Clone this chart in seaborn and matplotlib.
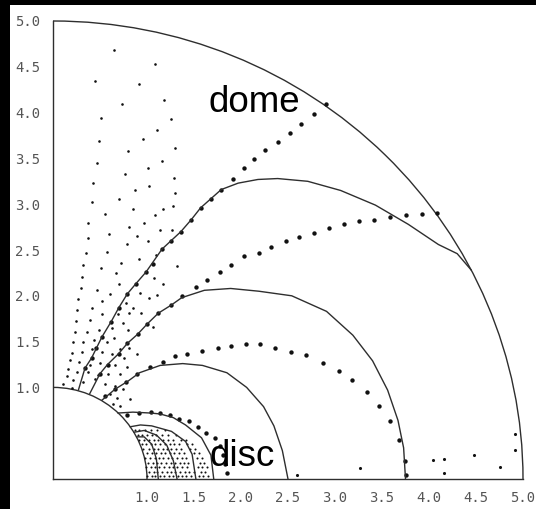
import numpy as np
import pandas as pd
import matplotlib
matplotlib.use("Agg")
import matplotlib.pyplot as plt
from matplotlib.patches import Arc, Rectangle
import seaborn as sns

sns.set_theme(style="white")
plt.rcParams["font.family"] = ["DejaVu Sans"]

# ---------------------------------------------------------------- data
# radii of the stellar surface and of the outer boundary
shell_radii = [1.0, 5.0]

# solid field lines (x, y in stellar radii)
arc_a_x = [0.27, 0.34, 0.41, 0.52, 0.62, 0.70, 0.79, 0.88, 0.99, 1.16, 1.36, 1.47, 1.57,
           1.68, 1.79, 1.97, 2.18, 2.39, 2.71, 3.06, 3.43, 3.78, 4.10, 4.30, 4.45]
arc_a_y = [0.97, 1.21, 1.32, 1.55, 1.72, 1.87, 2.02, 2.13, 2.26, 2.51, 2.70, 2.83, 2.96,
           3.06, 3.16, 3.23, 3.27, 3.28, 3.25, 3.15, 2.99, 2.78, 2.56, 2.46, 2.28]
arc_b_x = [0.39, 0.50, 0.58, 0.70, 0.79, 0.90, 1.00, 1.12, 1.26, 1.37, 1.61, 1.89, 2.19,
           2.54, 2.91, 3.19, 3.40, 3.56, 3.67, 3.73, 3.75]
arc_b_y = [0.93, 1.15, 1.25, 1.37, 1.48, 1.58, 1.69, 1.81, 1.90, 1.98, 2.06, 2.08, 2.05,
           2.00, 1.83, 1.57, 1.29, 0.97, 0.64, 0.34, 0.00]
arc_c_x = [0.52, 0.66, 0.80, 0.92, 1.14, 1.38, 1.59, 1.85, 2.06, 2.24, 2.35, 2.44, 2.50]
arc_c_y = [0.86, 0.98, 1.07, 1.16, 1.24, 1.26, 1.24, 1.16, 1.00, 0.79, 0.58, 0.31, 0.00]
arc_d_x = [0.69, 0.85, 1.04, 1.14, 1.28, 1.41, 1.58, 1.68, 1.71]
arc_d_y = [0.72, 0.73, 0.72, 0.71, 0.67, 0.59, 0.45, 0.26, 0.00]
arc_e_x = [0.82, 0.93, 1.05, 1.26, 1.41, 1.48, 1.52]
arc_e_y = [0.57, 0.59, 0.58, 0.52, 0.41, 0.27, 0.00]
arc_f_x = [0.86, 0.97, 1.10, 1.21, 1.28, 1.32]
arc_f_y = [0.51, 0.53, 0.48, 0.37, 0.20, 0.00]
arc_g_x = [0.89, 0.97, 1.05, 1.10, 1.12]
arc_g_y = [0.46, 0.46, 0.38, 0.22, 0.00]

# particle tracks (one dot per time step)
track1_x = [0.34, 0.41, 0.46, 0.52, 0.62, 0.70, 0.79, 0.88, 0.99, 1.06, 1.16, 1.26, 1.36,
            1.47, 1.57, 1.68, 1.79, 1.91, 2.03, 2.14, 2.26, 2.39, 2.52, 2.64, 2.78, 2.90]
track1_y = [1.21, 1.32, 1.43, 1.55, 1.71, 1.87, 2.02, 2.13, 2.26, 2.35, 2.51, 2.60, 2.70,
            2.83, 2.96, 3.06, 3.16, 3.27, 3.39, 3.49, 3.59, 3.68, 3.78, 3.88, 3.99, 4.09]
track2_x = [0.50, 0.58, 0.70, 0.79, 0.90, 1.00, 1.12, 1.26, 1.37, 1.52, 1.64, 1.78, 1.89,
            2.03, 2.19, 2.32, 2.48, 2.62, 2.78, 2.94, 3.10, 3.25, 3.41, 3.58, 3.75, 3.93, 4.09]
track2_y = [1.15, 1.25, 1.37, 1.48, 1.58, 1.69, 1.81, 1.90, 2.00, 2.10, 2.17, 2.26, 2.34,
            2.43, 2.47, 2.53, 2.60, 2.64, 2.69, 2.74, 2.78, 2.82, 2.83, 2.86, 2.88, 2.89, 2.90]
track3_x = [0.55, 0.66, 0.78, 0.89, 1.03, 1.17, 1.30, 1.43, 1.59, 1.75, 1.89, 2.05, 2.20,
            2.36, 2.53, 2.69, 2.87, 3.04, 3.18, 3.34, 3.47, 3.59, 3.68, 3.74, 3.76]
track3_y = [0.91, 0.98, 1.06, 1.15, 1.22, 1.28, 1.34, 1.37, 1.40, 1.43, 1.45, 1.47, 1.47,
            1.43, 1.39, 1.35, 1.27, 1.18, 1.08, 0.95, 0.80, 0.63, 0.43, 0.20, 0.04]
track4_x = [0.79, 0.92, 1.04, 1.14, 1.24, 1.34, 1.45, 1.54, 1.63, 1.72, 1.78, 1.81, 1.83, 1.85]
track4_y = [0.70, 0.72, 0.73, 0.72, 0.70, 0.66, 0.63, 0.57, 0.50, 0.45, 0.36, 0.26, 0.16, 0.07]

# scattered dots close to the equator, outside the closed loops
equator_x = [2.60, 3.27, 4.04, 4.16, 4.16, 4.48, 4.75, 4.91, 4.92]
equator_y = [0.04, 0.12, 0.21, 0.22, 0.07, 0.26, 0.13, 0.32, 0.49]

# open-field wind particles above the loops
wind_dots = [
    (0.65, 4.68), (1.09, 4.53), (0.45, 4.35), (0.91, 4.31), (0.73, 4.09), (1.18, 4.14),
    (0.51, 3.94), (1.26, 3.93), (1.11, 3.81), (0.96, 3.71), (0.49, 3.69), (0.80, 3.58),
    (1.30, 3.61), (0.47, 3.45), (1.16, 3.47), (1.01, 3.39), (0.77, 3.33), (1.29, 3.29),
    (0.43, 3.23), (1.02, 3.20), (0.87, 3.15), (1.30, 3.12), (0.70, 3.06), (0.41, 3.02),
    (0.85, 2.95), (1.17, 2.95), (1.28, 2.98), (0.55, 2.89), (1.09, 2.88), (0.37, 2.80),
    (0.97, 2.80), (0.81, 2.75), (1.14, 2.72), (1.27, 2.72),
    (0.37, 2.63), (0.60, 2.67), (0.89, 2.65), (0.35, 2.47), (0.57, 2.48), (0.79, 2.57),
    (1.01, 2.60), (0.32, 2.34), (0.51, 2.30), (0.72, 2.36), (0.91, 2.40), (1.10, 2.45),
    (1.32, 2.32), (0.31, 2.20), (0.67, 2.25), (1.07, 2.19), (1.17, 2.13), (0.30, 2.08),
    (0.47, 2.06), (0.61, 2.02), (0.70, 2.13), (0.93, 2.03), (1.02, 1.98), (1.11, 2.01),
    (0.27, 1.97), (0.42, 1.87), (0.52, 1.94), (0.78, 1.92), (0.85, 1.87), (0.94, 1.81),
    (0.25, 1.85), (0.39, 1.74), (0.52, 1.80), (0.69, 1.80), (0.81, 1.81), (1.06, 1.66),
    (0.24, 1.73), (0.23, 1.61), (0.36, 1.61), (0.49, 1.63), (0.63, 1.65), (0.74, 1.70),
    (0.80, 1.63), (0.21, 1.50), (0.32, 1.50), (0.44, 1.52), (0.57, 1.50), (0.65, 1.54),
    (0.71, 1.42), (0.81, 1.43), (0.20, 1.38), (0.31, 1.39), (0.42, 1.42), (0.52, 1.39),
    (0.63, 1.36), (0.75, 1.32), (0.89, 1.37), (0.18, 1.30), (0.28, 1.28), (0.39, 1.25),
    (0.50, 1.27), (0.66, 1.25), (0.79, 1.22), (0.16, 1.20), (0.25, 1.17), (0.37, 1.17),
    (0.48, 1.14), (0.58, 1.15), (0.71, 1.15), (0.15, 1.12), (0.21, 1.08), (0.32, 1.06),
    (0.45, 1.09), (0.55, 1.04), (0.66, 1.01), (0.74, 0.98), (0.11, 1.04), (0.20, 0.99),
    (0.61, 0.93), (0.68, 0.88), (0.64, 0.82), (0.71, 0.80), (0.82, 0.87),
]
wind_x = [p[0] for p in wind_dots]
wind_y = [p[1] for p in wind_dots]

# dense population trapped in the disc (rows of constant height)
disc_rows = {
    0.03: [1.00, 1.05, 1.09, 1.14, 1.18, 1.23, 1.28, 1.33, 1.37, 1.42, 1.47, 1.55, 1.60, 1.65],
    0.08: [1.02, 1.07, 1.11, 1.16, 1.21, 1.26, 1.30, 1.35, 1.40, 1.45, 1.50, 1.57, 1.62],
    0.13: [0.99, 1.04, 1.09, 1.13, 1.18, 1.23, 1.28, 1.32, 1.37, 1.43, 1.54, 1.59, 1.64],
    0.18: [1.01, 1.06, 1.11, 1.15, 1.20, 1.25, 1.30, 1.35, 1.39, 1.44, 1.56, 1.61],
    0.23: [0.98, 1.03, 1.08, 1.13, 1.17, 1.22, 1.27, 1.32, 1.37, 1.42, 1.53, 1.58],
    0.28: [1.00, 1.05, 1.10, 1.15, 1.19, 1.24, 1.29, 1.34, 1.39, 1.50, 1.55],
    0.33: [0.96, 1.02, 1.07, 1.12, 1.17, 1.21, 1.26, 1.31, 1.36, 1.46, 1.51],
    0.38: [0.95, 0.99, 1.04, 1.09, 1.14, 1.19, 1.24, 1.29, 1.34, 1.43, 1.48],
    0.43: [0.92, 0.97, 1.02, 1.07, 1.12, 1.17, 1.22, 1.28, 1.36, 1.41],
    0.48: [0.90, 0.95, 1.00, 1.05, 1.10, 1.16, 1.22, 1.31],
    0.53: [0.87, 0.92, 0.98, 1.04, 1.11, 1.19],
}
disc_x = [x for h, xs in disc_rows.items() for x in xs]
disc_y = [h for h, xs in disc_rows.items() for x in xs]

tick_values = [1.0, 1.5, 2.0, 2.5, 3.0, 3.5, 4.0, 4.5, 5.0]
minor_values = [1.25, 1.75, 2.25, 2.75, 3.25, 3.75, 4.25, 4.75]
tick_labels = ["1.0", "1.5", "2.0", "2.5", "3.0", "3.5", "4.0", "4.5", "5.0"]

region_labels = ["dome", "disc"]
region_pos = [(1.65, 4.01), (1.67, 0.14)]

# ---------------------------------------------------------------- figure
W, H = 536, 509
fig = plt.figure(figsize=(W / 100, H / 100), dpi=100)
fig.patch.set_facecolor("black")
fig.patches.append(Rectangle((10 / W, 0), 1 - 10 / W, (H - 5) / H,
                             transform=fig.transFigure, facecolor="white",
                             edgecolor="none", zorder=-5))

x_max, y_max = (W - 53) / 94, 5.1
ax = fig.add_axes([53 / W, 30 / H, 94 * x_max / W, 91.6 * y_max / H])
ax.set_facecolor("white")
ax.set_xlim(0, x_max)
ax.set_ylim(0, y_max)

line_kw = dict(color="#2e2e2e", linewidth=1.0)
for r in shell_radii:
    ax.add_patch(Arc((0, 0), 2 * r, 2 * r, theta1=0, theta2=90, clip_on=False, **line_kw))

for xs, ys in [(arc_a_x, arc_a_y), (arc_b_x, arc_b_y), (arc_c_x, arc_c_y),
               (arc_d_x, arc_d_y), (arc_e_x, arc_e_y), (arc_f_x, arc_f_y),
               (arc_g_x, arc_g_y)]:
    sns.lineplot(data=pd.DataFrame({"x": xs, "y": ys}), x="x", y="y", sort=False,
                 estimator=None, ax=ax, **line_kw)

dot_kw = dict(color="#111111", linewidth=0, legend=False, marker="o")
for xs, ys in [(track1_x, track1_y), (track2_x, track2_y), (track3_x, track3_y),
               (track4_x, track4_y)]:
    sns.scatterplot(x=xs, y=ys, s=10, ax=ax, **dot_kw)
sns.scatterplot(x=equator_x, y=equator_y, s=5, ax=ax, **dot_kw)
sns.scatterplot(x=wind_x, y=wind_y, s=3.5, ax=ax, **dot_kw)
sns.scatterplot(x=disc_x, y=disc_y, s=2.2, ax=ax, **dot_kw)

for text, (tx, ty) in zip(region_labels, region_pos):
    ax.text(tx, ty, text, fontsize=26.5, family="Liberation Sans", color="black",
            ha="left", va="baseline", zorder=10)

# axes frame: only the two meridional axes, up to r = 5
for side in ("top", "right"):
    ax.spines[side].set_visible(False)
for side in ("left", "bottom"):
    ax.spines[side].set_color("#2e2e2e")
    ax.spines[side].set_linewidth(1.0)
    ax.spines[side].set_bounds(0, 5.0)

ax.set_xticks(tick_values)
ax.set_xticklabels(tick_labels)
ax.set_yticks(tick_values)
ax.set_yticklabels(tick_labels)
ax.set_xticks(minor_values, minor=True)
ax.set_yticks(minor_values, minor=True)
ax.tick_params(which="both", direction="in", length=4, width=0.8, color="#555555",
               labelsize=10, labelcolor="#555555")
ax.tick_params(axis="y", pad=9)
ax.tick_params(axis="x", pad=9)
for lab in ax.get_xticklabels() + ax.get_yticklabels():
    lab.set_family("DejaVu Sans Mono")
ax.set_xlabel("")
ax.set_ylabel("")

fig.savefig("out.png", dpi=100, facecolor=fig.get_facecolor())
